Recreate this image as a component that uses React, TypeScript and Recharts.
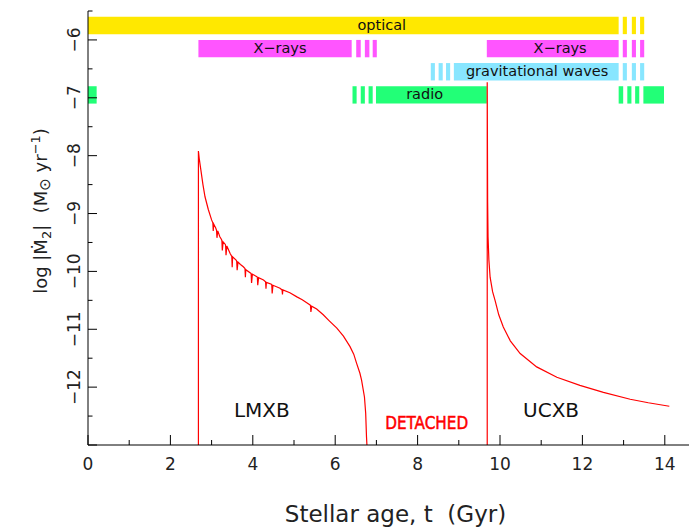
import React from 'react';
import { ComposedChart, Line, XAxis, YAxis, ReferenceArea, ReferenceDot, Label } from 'recharts';

// ---- axis ticks ----
const xTicks = [0, 1, 2, 3, 4, 5, 6, 7, 8, 9, 10, 11, 12, 13, 14, 15];
const xLabelTicks = [0, 2, 4, 6, 8, 10, 12, 14];
const yTicks = [-13, -12.5, -12, -11.5, -11, -10.5, -10, -9.5, -9, -8.5, -8, -7.5, -7, -6.5, -6, -5.5];
const yLabelTicks = [-12, -11, -10, -9, -8, -7, -6];

// ---- observability bands (Gyr spans) ----
const bandNames = ['optical', 'X-rays', 'gravitational waves', 'radio'];
const bandColors = ['#FFE800', '#FF55FF', '#88E6FF', '#22FF77'];
const bandCenters = [-5.75, -6.15, -6.55, -6.95];
const bandHalf = 0.15;
const opticalSpans = [[0, 12.88], [12.98, 13.08], [13.2, 13.3], [13.4, 13.5]];
const xraySpans = [[2.68, 6.4], [6.51, 6.62], [6.72, 6.83], [6.91, 7.01], [9.68, 12.88], [12.98, 13.08], [13.2, 13.3], [13.4, 13.5]];
const gwSpans = [[8.32, 8.42], [8.51, 8.61], [8.69, 8.79], [8.88, 12.88], [12.98, 13.08], [13.2, 13.3], [13.4, 13.5]];
const radioSpans = [[0, 0.21], [6.42, 6.52], [6.62, 6.72], [6.81, 6.91], [6.99, 9.68], [12.88, 12.99], [13.09, 13.19], [13.28, 13.38], [13.48, 13.98]];
const bandSpans = [opticalSpans, xraySpans, gwSpans, radioSpans];

// band text labels
const bandLabelText = ['optical', 'X\u2212rays', 'X\u2212rays', 'gravitational waves', 'radio'];
const bandLabelX = [7.13, 4.66, 11.46, 10.9, 8.17];
const bandLabelY = [-5.75, -6.15, -6.15, -6.55, -6.95];

// ---- LMXB mass-transfer track ----
const lmxbAge = [2.68, 2.68, 2.7, 2.74, 2.79, 2.84, 2.92, 3.0, 3.03, 3.04, 3.05, 3.1, 3.12, 3.13, 3.15, 3.2, 3.24, 3.25, 3.26, 3.28, 3.33, 3.34, 3.35, 3.37, 3.45, 3.49, 3.5, 3.51, 3.6, 3.61, 3.62, 3.64, 3.7, 3.77, 3.81, 3.82, 3.83, 3.95, 3.96, 3.97, 3.99, 4.1, 4.11, 4.12, 4.14, 4.26, 4.31, 4.32, 4.33, 4.45, 4.46, 4.47, 4.49, 4.66, 4.71, 4.72, 4.73, 4.9, 5.07, 5.2, 5.39, 5.4, 5.41, 5.43, 5.55, 5.71, 5.85, 6.04, 6.2, 6.36, 6.45, 6.52, 6.6, 6.64, 6.71, 6.74, 6.76, 6.77];
const lmxbRate = [-13, -7.92, -8.05, -8.25, -8.5, -8.71, -8.93, -9.11, -9.16, -9.3, -9.18, -9.25, -9.29, -9.42, -9.3, -9.4, -9.45, -9.47, -9.64, -9.49, -9.53, -9.55, -9.72, -9.56, -9.69, -9.74, -9.93, -9.75, -9.81, -9.83, -9.98, -9.84, -9.88, -9.92, -9.95, -10.1, -9.97, -10.03, -10.04, -10.2, -10.05, -10.09, -10.1, -10.24, -10.11, -10.15, -10.18, -10.3, -10.19, -10.22, -10.23, -10.38, -10.24, -10.29, -10.32, -10.4, -10.32, -10.37, -10.44, -10.49, -10.58, -10.59, -10.7, -10.6, -10.65, -10.75, -10.85, -10.98, -11.12, -11.3, -11.43, -11.59, -11.76, -11.88, -12.17, -12.45, -12.86, -13];

// ---- UCXB mass-transfer track ----
const ucxbAge = [9.69, 9.69, 9.7, 9.71, 9.73, 9.76, 9.82, 9.88, 9.97, 10.08, 10.25, 10.49, 10.89, 11.38, 11.94, 12.51, 13.16, 13.6, 14.11];
const ucxbRate = [-13, -6.73, -8.8, -9.4, -9.8, -10.1, -10.35, -10.5, -10.75, -10.96, -11.2, -11.42, -11.65, -11.83, -11.97, -12.09, -12.21, -12.27, -12.33];

// ---- annotations ----
const annoText = ['LMXB', 'DETACHED', 'UCXB'];
const annoX = [4.22, 8.22, 11.24];
const annoY = [-12.4, -12.62, -12.4];

const lmxbData = lmxbAge.map((t, i) => ({ t, v: lmxbRate[i] }));
const ucxbData = ucxbAge.map((t, i) => ({ t, v: ucxbRate[i] }));

const TXT = '#222';
const isInt = (v: number) => Math.abs(v - Math.round(v)) < 1e-6;
const fmt = (v: number) => (v < 0 ? '\u2212' + Math.abs(v) : String(v));

const BottomTick = (p: any) => {
  const { x, y, payload } = p;
  const v = payload.value;
  const major = xLabelTicks.includes(v);
  return (
    <g>
      <line x1={x} x2={x} y1={y} y2={y - (major ? 10 : 5)} stroke="#000" strokeWidth={1} />
      {major && (
        <text x={x} y={y + 25} textAnchor="middle" fontSize={17} fill={TXT}>{fmt(v)}</text>
      )}
    </g>
  );
};

const TopTick = (p: any) => {
  const { x, y, payload } = p;
  const major = isInt(payload.value / 2);
  return <line x1={x} x2={x} y1={y} y2={y + (major ? 9 : 4.5)} stroke="#000" strokeWidth={1} />;
};

const LeftTick = (p: any) => {
  const { x, y, payload } = p;
  const v = payload.value;
  const major = isInt(v);
  const show = yLabelTicks.includes(v);
  const bx = x - 8;
  return (
    <g>
      <line x1={x} x2={x + (major ? 9 : 4.5)} y1={y} y2={y} stroke="#000" strokeWidth={1} />
      {show && (
        <text x={bx} y={y} transform={`rotate(-90 ${bx} ${y})`} textAnchor="middle" fontSize={17} fill={TXT}>{fmt(v)}</text>
      )}
    </g>
  );
};

const RightTick = (p: any) => {
  const { x, y, payload } = p;
  const major = isInt(payload.value);
  return <line x1={x} x2={x - (major ? 9 : 4.5)} y1={y} y2={y} stroke="#000" strokeWidth={1} />;
};

const YTitle = (p: any) => {
  const vb = p.viewBox || { x: 0, y: 3, width: 80, height: 434 };
  const cx = vb.x + 39;
  const cy = vb.y + vb.height / 2 - 17;
  return (
    <text x={cx} y={cy} transform={`rotate(-90 ${cx} ${cy})`} textAnchor="middle" fontSize={18} fill={TXT}>
      <tspan>log |{'\u1E40'}</tspan>
      <tspan fontSize={13} dy={4}>2</tspan>
      <tspan dy={-4}>|{'\u00A0\u00A0'}(M</tspan>
      <tspan fontSize={15} dy={3}>{'\u2299'}</tspan>
      <tspan dy={-3}>{'\u00A0'}yr</tspan>
      <tspan fontSize={13} dy={-7}>{'\u2212'}1</tspan>
      <tspan dy={7}>)</tspan>
    </text>
  );
};

const XTitle = (p: any) => {
  const vb = p.viewBox || { x: 80, y: 437, width: 618, height: 83 };
  const cx = vb.x + vb.width / 2 - 1.5;
  const cy = vb.y + 77;
  return (
    <text x={cx} y={cy} textAnchor="middle" fontSize={23} fill={TXT}>
      Stellar age, t{'\u00A0\u00A0'}(Gyr)
    </text>
  );
};

const makeText = (text: string, size: number, color: string, dyk: number, len?: number, strokeW?: number) => (p: any) => {
  const vb = p.viewBox || { x: 0, y: 0 };
  return (
    <text
      x={vb.x + (vb.width || 0) / 2}
      y={vb.y + (vb.height || 0) / 2 + size * dyk}
      textAnchor="middle"
      fontSize={size}
      fill={color}
      stroke={strokeW ? color : 'none'}
      strokeWidth={strokeW || 0}
      {...(len ? { textLength: len, lengthAdjust: 'spacingAndGlyphs' } : {})}
    >
      {text}
    </text>
  );
};

export default function App() {
  return (
    <>
      <style>{'html,body{overflow:hidden;} body{margin:8px 8px 0 8px;}'}</style>
      <div style={{ width: 689, height: 520, overflow: 'hidden', fontFamily: '"DejaVu Sans", sans-serif' }}>
        <ComposedChart width={698} height={520} margin={{ top: 3, right: 0, bottom: 0, left: 0 }}>
          <XAxis
            xAxisId="b"
            dataKey="t"
            type="number"
            domain={[0, 15]}
            ticks={xTicks}
            interval={0}
            allowDataOverflow
            orientation="bottom"
            height={83}
            tickSize={0}
            tickMargin={0}
            tickLine={false}
            axisLine={{ stroke: '#000', strokeWidth: 1 }}
            tick={<BottomTick />}
          >
            <Label content={<XTitle />} />
          </XAxis>
          <XAxis
            xAxisId="t"
            dataKey="t"
            type="number"
            domain={[0, 15]}
            ticks={xTicks}
            interval={0}
            allowDataOverflow
            orientation="top"
            height={0}
            tickSize={0}
            tickMargin={0}
            tickLine={false}
            axisLine={{ stroke: '#000', strokeWidth: 1 }}
            tick={<TopTick />}
          />
          <YAxis
            yAxisId="l"
            type="number"
            domain={[-13, -5.5]}
            ticks={yTicks}
            interval={0}
            allowDataOverflow
            orientation="left"
            width={80}
            tickSize={0}
            tickMargin={0}
            tickLine={false}
            axisLine={{ stroke: '#000', strokeWidth: 1 }}
            tick={<LeftTick />}
          >
            <Label content={<YTitle />} />
          </YAxis>
          <YAxis
            yAxisId="r"
            type="number"
            domain={[-13, -5.5]}
            ticks={yTicks}
            interval={0}
            allowDataOverflow
            orientation="right"
            width={0}
            tickSize={0}
            tickMargin={0}
            tickLine={false}
            axisLine={{ stroke: '#000', strokeWidth: 1 }}
            tick={<RightTick />}
          />

          {bandSpans.map((spans, r) =>
            spans.map((s, i) => (
              <ReferenceArea
                key={`band-${r}-${i}`}
                xAxisId="b"
                yAxisId="l"
                x1={s[0]}
                x2={s[1]}
                y1={bandCenters[r] - bandHalf}
                y2={bandCenters[r] + bandHalf}
                fill={bandColors[r]}
                fillOpacity={1}
                stroke="none"
                ifOverflow="visible"
              />
            ))
          )}

          {bandLabelText.map((txt, i) => (
            <ReferenceDot
              key={`bl-${i}`}
              xAxisId="b"
              yAxisId="l"
              x={bandLabelX[i]}
              y={bandLabelY[i]}
              r={0}
              fill="none"
              stroke="none"
              ifOverflow="visible"
              label={makeText(txt, 14.5, '#111', 0.31)}
            />
          ))}

          <Line
            xAxisId="b"
            yAxisId="l"
            data={lmxbData}
            dataKey="v"
            type="linear"
            stroke="#FF0000"
            strokeWidth={1.2}
            dot={false}
            activeDot={false}
            isAnimationActive={false}
          />
          <Line
            xAxisId="b"
            yAxisId="l"
            data={ucxbData}
            dataKey="v"
            type="linear"
            stroke="#FF0000"
            strokeWidth={1.2}
            dot={false}
            activeDot={false}
            isAnimationActive={false}
          />

          {annoText.map((txt, i) => (
            <ReferenceDot
              key={`an-${i}`}
              xAxisId="b"
              yAxisId="l"
              x={annoX[i]}
              y={annoY[i]}
              r={0}
              fill="none"
              stroke="none"
              ifOverflow="visible"
              label={
                i === 1
                  ? makeText(txt, 17, '#FF0000', 0.36, 83, 0.5)
                  : makeText(txt, 20, '#111', 0.36)
              }
            />
          ))}
        </ComposedChart>
      </div>
    </>
  );
}
